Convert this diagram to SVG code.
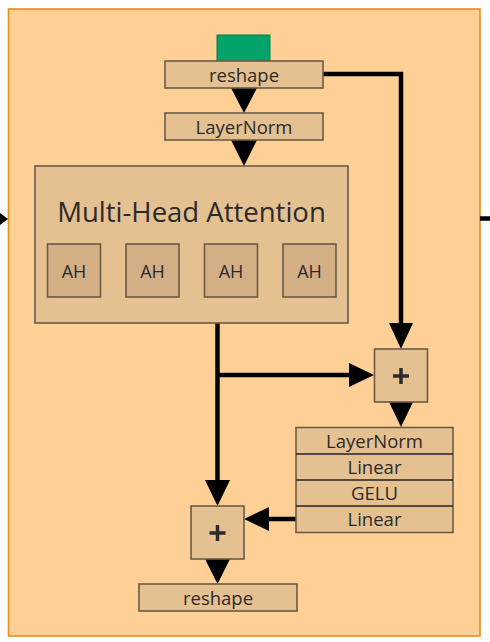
<svg xmlns="http://www.w3.org/2000/svg" width="490" height="642" viewBox="0 0 490 642">
<style>
  .box { fill: #e5c090; stroke: #6b5a45; stroke-width: 1.6; }
  .ah { fill: #d4ae85; stroke: #6b5a45; stroke-width: 1.6; }
  .t { font-family: "Open Sans", "DejaVu Sans", sans-serif; fill: #2b2b2b; text-anchor: middle; }
  .s { font-size: 18.5px; }
  .a { font-size: 18px; }
  .line { fill: none; stroke: #000; stroke-width: 4.5; }
  .head { fill: #000; }
  .div { stroke: #222; stroke-width: 1.6; }
</style>
<g id="frame">
  <rect x="8.5" y="9" width="471.5" height="627" fill="#fed095" stroke="#e8901a" stroke-width="1.6"/>
</g>
<g id="connectors">
  <polygon class="head" points="0,213 8,219 0,225"/>
  <path class="line" d="M480,218.5 H490"/>
  <polygon class="head" points="231,88 257,88 244,113"/>
  <polygon class="head" points="231,140 257,140 244,166"/>
  <path class="line" d="M323,74 H401 V324"/>
  <polygon class="head" points="389,323 413,323 401,349"/>
  <path class="line" d="M217.5,323 V481"/>
  <path class="line" d="M217.5,375 H350"/>
  <polygon class="head" points="349,363 374,375 349,387"/>
  <polygon class="head" points="205,480 230,480 217.5,506"/>
  <polygon class="head" points="389,402 413,402 401,427"/>
  <path class="line" d="M296,519 H268"/>
  <polygon class="head" points="269,507 244,519 269,531"/>
  <polygon class="head" points="205,559 230,559 217.5,584"/>
</g>
<g id="input">
  <rect x="217" y="35" width="53" height="27" fill="#00a36a" stroke="#0a7a50" stroke-width="1"/>
</g>
<g id="reshape-in">
  <rect class="box" x="165" y="61" width="158" height="27"/>
  <text class="t s" x="244" y="81.5">reshape</text>
</g>
<g id="layernorm-1">
  <rect class="box" x="165" y="113" width="158" height="27"/>
  <text class="t s" x="244" y="133.5">LayerNorm</text>
</g>
<g id="mha">
  <rect class="box" x="35" y="166" width="313" height="157"/>
  <text class="t" x="191.5" y="222" font-size="27.5">Multi-Head Attention</text>
  <g id="ah1"><rect class="ah" x="47.5" y="244" width="53" height="53"/><text class="t a" x="74" y="278">AH</text></g>
  <g id="ah2"><rect class="ah" x="126" y="244" width="53" height="53"/><text class="t a" x="152.5" y="278">AH</text></g>
  <g id="ah3"><rect class="ah" x="204.5" y="244" width="53" height="53"/><text class="t a" x="231" y="278">AH</text></g>
  <g id="ah4"><rect class="ah" x="283" y="244" width="53" height="53"/><text class="t a" x="309.5" y="278">AH</text></g>
</g>
<g id="add-1">
  <rect class="box" x="374.5" y="349" width="53" height="53"/>
  <path d="M401,368 V384 M393,376 H409" stroke="#2b2b2b" stroke-width="3.5"/>
</g>
<g id="mlp">
  <rect class="box" x="296" y="427.5" width="157" height="105"/>
  <line class="div" x1="296" y1="454" x2="453" y2="454"/>
  <line class="div" x1="296" y1="480" x2="453" y2="480"/>
  <line class="div" x1="296" y1="506" x2="453" y2="506"/>
  <text class="t s" x="374.5" y="447.5">LayerNorm</text>
  <text class="t s" x="374.5" y="473.5">Linear</text>
  <text class="t s" x="374.5" y="499.5">GELU</text>
  <text class="t s" x="374.5" y="526">Linear</text>
</g>
<g id="add-2">
  <rect class="box" x="191" y="506" width="53" height="53"/>
  <path d="M217.5,525 V541 M209.5,533 H225.5" stroke="#2b2b2b" stroke-width="3.5"/>
</g>
<g id="reshape-out">
  <rect class="box" x="139" y="584" width="158" height="27"/>
  <text class="t s" x="218" y="604.5">reshape</text>
</g>
</svg>
